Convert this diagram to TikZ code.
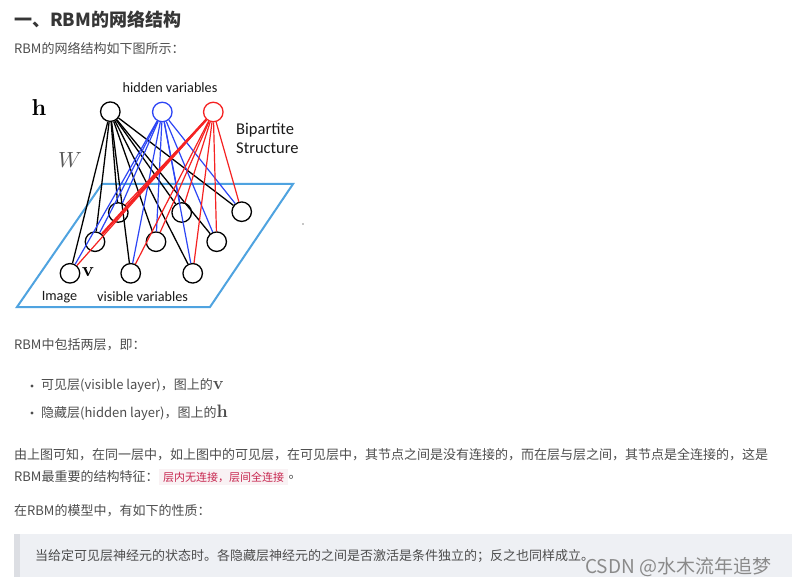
\documentclass[tikz,border=0pt]{standalone}
\usepackage{graphicx}
\usepackage[no-math]{fontspec}
\setmainfont{Noto Sans CJK SC}
\newfontfamily\calib{Carlito}
\definecolor{txt}{HTML}{4D4D4D}
\definecolor{ttl}{HTML}{363636}
\definecolor{hblue}{HTML}{2D45F5}
\definecolor{hred}{HTML}{F52222}
\definecolor{plane}{HTML}{4FA3E0}
\definecolor{codebg}{HTML}{F9F2F4}
\definecolor{codefg}{HTML}{C7254E}
\definecolor{bqbg}{HTML}{EEF0F4}
\definecolor{bqbar}{HTML}{DCDEE3}
\definecolor{wmark}{HTML}{8A8A8A}
\newcommand{\bigmath}[2]{\scalebox{#1}{$#2$}}
\begin{document}
\begin{tikzpicture}[x=1pt,y=-1pt,
  body/.style={anchor=west,inner sep=0pt,text=txt,font=\fontsize{13}{15}\selectfont},
  neuron/.style={circle,draw=#1,line width=1.3pt,minimum size=19.5pt,inner sep=0pt},
  neuron/.default=black,
  kedge/.style={draw=black,line width=1.3pt},
  bedge/.style={draw=hblue,line width=1.2pt},
  redge/.style={draw=hred,line width=1.2pt},
  dlbl/.style={inner sep=0pt,font=\calib\fontsize{14.2}{16}\selectfont,text=black!90}]
\useasboundingbox (0,0) rectangle (792,585);
\fill[white] (0,0) rectangle (792,585);

% header texts
\node[body,anchor=west,text=ttl,font=\fontsize{18}{20}\selectfont\bfseries] (title) at (14,20) {一、RBM的网络结构};
\node[body] (intro) at (14,48) {RBM的网络结构如下图所示：};

% plane
\draw[plane,line width=2pt,line join=miter] (17,307) -- (102,184) -- (293,184) -- (210,307) -- cycle;
\fill[black!45] (303,224) circle (0.8);

% hidden nodes
\node[neuron] (hk) at (110.3,111.7) {};
\node[neuron=hblue] (hb) at (162.3,112) {};
\node[neuron=hred] (hr) at (213.3,112) {};

% visible nodes
\node[neuron] (vb1) at (118.3,212.5) {};
\node[neuron] (vb2) at (181.7,212.5) {};
\node[neuron] (vb3) at (241.7,211.7) {};
\node[neuron] (vm1) at (95,241.7) {};
\node[neuron] (vm2) at (156,241.7) {};
\node[neuron] (vm3) at (216.7,241.7) {};
\node[neuron] (vf1) at (70,273.3) {};
\node[neuron] (vf2) at (130.7,273.3) {};
\node[neuron] (vf3) at (192.7,273.3) {};

% edges
\foreach \v in {vb1,vb2,vb3,vm1,vm2,vm3,vf1,vf2,vf3}{
  \draw[kedge] (hk) -- (\v);
}
\foreach \v in {vb1,vb2,vb3,vm1,vm2,vm3,vf1,vf2,vf3}{
  \draw[bedge] (hb) -- (\v);
}
\foreach \v in {vb1,vb2,vb3,vm2,vm3,vf1,vf2,vf3}{
  \draw[redge] (hr) -- (\v);
}
\draw[redge,line width=2.4pt] (hr) -- (vm1);

% diagram labels
\node[dlbl] (hidlbl) at (170,88) {hidden variables};
\node[dlbl,anchor=west,font=\calib\fontsize{16.5}{18}\selectfont] (bip1) at (236,130) {Bipartite};
\node[dlbl,anchor=west,font=\calib\fontsize{16.5}{18}\selectfont] (bip2) at (236,148) {Structure};
\node[inner sep=0pt] (hsym) at (39,108) {\bigmath{2.3}{\mathbf{h}}};
\node[inner sep=0pt,text=black!65] (wsym) at (70,160) {\bigmath{2.2}{W}};
\node[inner sep=0pt] (vsym) at (88,272) {\bigmath{2.0}{\mathbf{v}}};
\node[dlbl] (imglbl) at (59.5,297) {Image};
\node[dlbl] (vislbl) at (142.5,297) {visible variables};

% body texts
\node[body] (p1) at (14,345) {RBM中包括两层，即：};
\fill[txt] (32,386) circle (1.7);
\node[body] (li1) at (41,386) {可见层(visible layer)，图上的\bigmath{1.5}{\mathbf{v}}};
\fill[txt] (32,413) circle (1.7);
\node[body] (li2) at (41,413) {隐藏层(hidden layer)，图上的\bigmath{1.5}{\mathbf{h}}};

\node[body] (p2a) at (14,455) {由上图可知，在同一层中，如上图中的可见层，在可见层中，其节点之间是没有连接的，而在层与层之间，其节点是全连接的，这是};
\node[body] (p2b) at (14,477) {RBM最重要的结构特征：};
\node[anchor=west,fill=codebg,text=codefg,inner xsep=4pt,inner ysep=3pt,font=\fontsize{11}{13}\selectfont] (code) at (159,477) {层内无连接，层间全连接};
\node[body] (p2c) at (code.east) {。};

\node[body] (p3) at (14,511) {在RBM的模型中，有如下的性质：};

% blockquote
\fill[bqbg] (14,534) rectangle (792,577);
\fill[bqbar] (14,534) rectangle (20,577);
\node[body] (bq) at (35,556) {当给定可见层神经元的状态时。各隐藏层神经元的之间是否激活是条件独立的；反之也同样成立。};
\node[body,text=wmark,font=\fontsize{19}{21}\selectfont] (wm) at (585,567) {CSDN @水木流年追梦};
\end{tikzpicture}
\end{document}
